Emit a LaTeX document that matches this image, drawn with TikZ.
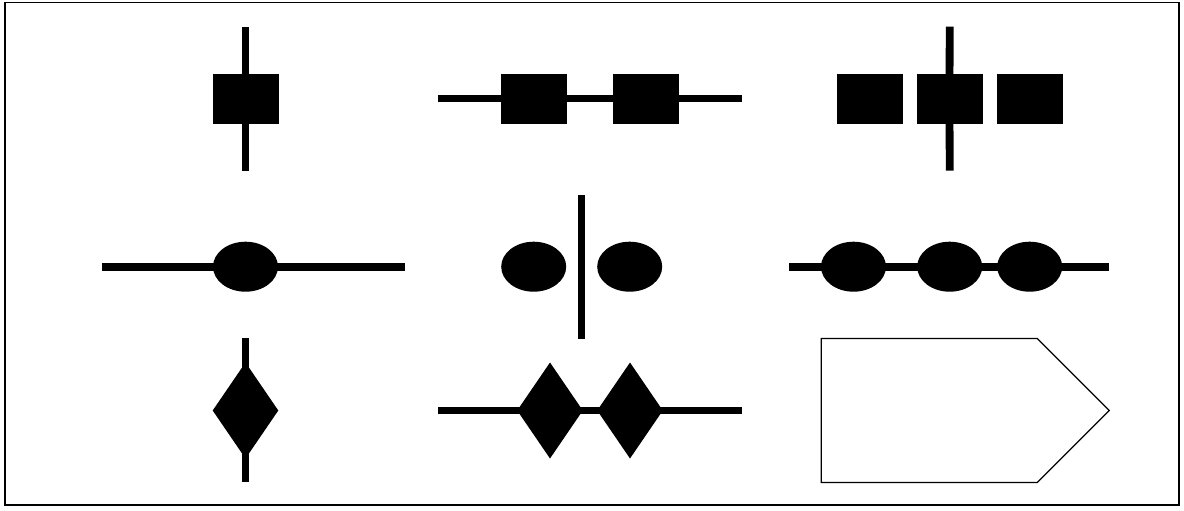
\documentclass[tikz,border=0pt]{standalone}
\usetikzlibrary{shapes.geometric,shapes.symbols}

\tikzset{
    blocksq/.style={rectangle, fill=black, draw=none, inner sep=0pt, outer sep=0pt,
        minimum width=33pt, minimum height=25pt},
    blockel/.style={ellipse, fill=black, draw=none, inner sep=0pt, outer sep=0pt,
        minimum width=32.5pt, minimum height=25pt},
    blockdi/.style={diamond, fill=black, draw=none, inner sep=0pt, outer sep=0pt,
        minimum width=32.8pt, minimum height=48pt},
    bar/.style={line width=3.9pt, line cap=butt},
}

\begin{document}
\begin{tikzpicture}[x=0.5pt, y=-0.5pt]
    \useasboundingbox (0,0) rectangle (1184,510);

    % Frame
    \draw[line width=0.8pt] (5,2.5) rectangle (1179,505);

    % Row 1: squares
    \node[blocksq] (sqA) at (245.5,98.5) {};
    \coordinate (sqAtop) at (245.5,26.7);
    \coordinate (sqAbot) at (245.5,170.7);
    \draw[bar] (sqAtop) -- (sqA.center) -- (sqAbot);

    \node[blocksq] (sqB1) at (533.5,98.5) {};
    \node[blocksq] (sqB2) at (645.5,98.5) {};
    \coordinate (sqBin) at (437.7,98.5);
    \coordinate (sqBout) at (741.7,98.5);
    \draw[bar] (sqBin) -- (sqB1.center) -- (sqB2.center) -- (sqBout);

    \node[blocksq] (sqC1) at (869.5,98.5) {};
    \node[blocksq] (sqC2) at (949.5,98.5) {};
    \node[blocksq] (sqC3) at (1029.5,98.5) {};
    \coordinate (sqCtop) at (949.7,26.7);
    \coordinate (sqCbot) at (949.7,170.7);
    \draw[bar] (sqCtop) -- (sqC2.center) -- (sqCbot);

    % Row 2: ellipses
    \node[blockel] (elA) at (245.5,266.7) {};
    \coordinate (elAin) at (101.7,266.7);
    \coordinate (elAout) at (405.3,266.7);
    \draw[bar] (elAin) -- (elA.center) -- (elAout);

    \node[blockel] (elB1) at (533.7,266.7) {};
    \node[blockel] (elB2) at (629.7,266.7) {};
    \coordinate (elBtop) at (581.5,194.7);
    \coordinate (elBbot) at (581.5,338.7);
    \draw[bar] (elBtop) -- (elBbot);

    \node[blockel] (elC1) at (853.5,266.7) {};
    \node[blockel] (elC2) at (949.7,266.7) {};
    \node[blockel] (elC3) at (1029.7,266.7) {};
    \coordinate (elCin) at (789.3,266.7);
    \coordinate (elCout) at (1109.3,266.7);
    \draw[bar] (elCin) -- (elC1.center) -- (elC2.center) -- (elC3.center) -- (elCout);

    % Row 3: diamonds and signal
    \node[blockdi] (diA) at (245.5,410.5) {};
    \coordinate (diAtop) at (245.5,338.3);
    \coordinate (diAbot) at (245.5,482.3);
    \draw[bar] (diAtop) -- (diA.center) -- (diAbot);

    \node[blockdi] (diB1) at (550,410.5) {};
    \node[blockdi] (diB2) at (630,410.5) {};
    \coordinate (diBin) at (438,410.5);
    \coordinate (diBout) at (741.7,410.5);
    \draw[bar] (diBin) -- (diB1.center) -- (diB2.center) -- (diBout);

    \node[signal, signal to=east, signal pointer angle=90, draw=black, line width=0.6pt,
        inner sep=0pt, outer sep=0pt, minimum width=144pt, minimum height=72pt,
        anchor=west] (sig) at (821.3,410.5) {};

\end{tikzpicture}
\end{document}
